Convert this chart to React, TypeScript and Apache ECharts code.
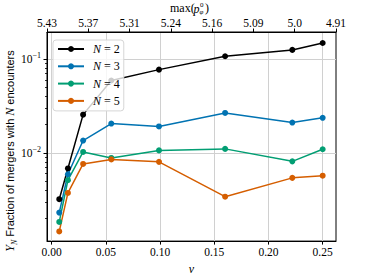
import React, { useEffect, useRef } from "react";
import * as echarts from "echarts";

const nu = [0.007, 0.015, 0.029, 0.055, 0.099, 0.16, 0.222, 0.25];
const yN2 = [0.0032, 0.0068, 0.0255, 0.059, 0.077, 0.107, 0.125, 0.148];
const yN3 = [0.0023, 0.0059, 0.0135, 0.0205, 0.0191, 0.0266, 0.021, 0.0236];
const yN4 = [0.00183, 0.0051, 0.0102, 0.0088, 0.0106, 0.011, 0.0081, 0.0109];
const yN5 = [0.00145, 0.00373, 0.0076, 0.0085, 0.008, 0.0034, 0.0054, 0.0057];
const seriesNames = ["N = 2", "N = 3", "N = 4", "N = 5"];
const seriesColors = ["#000000", "#0173B2", "#029E73", "#D55E00"];
const xTicks = [0, 0.05, 0.1, 0.15, 0.2, 0.25];
const topLabels = ["5.43", "5.37", "5.31", "5.24", "5.16", "5.09", "5.0", "4.91"];
const yMajor = [0.01, 0.1];
const yMinor = [0.002, 0.003, 0.004, 0.005, 0.006, 0.007, 0.008, 0.009, 0.02, 0.03, 0.04, 0.05, 0.06, 0.07, 0.08, 0.09];

const SERIF = "Liberation Serif";
const SANS = "Liberation Sans";

export default function App() {
  const ref = useRef<HTMLDivElement>(null);
  useEffect(() => {
    const chart = echarts.init(ref.current!, null, { renderer: "svg" });
    const allY = [yN2, yN3, yN4, yN5];
    const yMin = 0.001143;
    const yMax = 0.194;
    const option: any = {
      animation: false,
      grid: {
        left: 47,
        right: 38,
        top: 32,
        bottom: 31,
        show: true,
        borderColor: "#000",
        borderWidth: 1,
        backgroundColor: "transparent",
      },
      legend: {
        orient: "vertical",
        left: 53,
        top: 40,
        itemWidth: 26,
        itemHeight: 7.5,
        itemGap: 3.3,
        padding: [2, 4, 3, 4],
        backgroundColor: "rgba(255,255,255,0.8)",
        borderColor: "#d6d6d6",
        borderWidth: 1,
        borderRadius: 3,
        data: seriesNames,
        formatter: (name: string) => `{i|N}{n| = ${name.split("= ")[1]}}`,
        textStyle: {
          fontFamily: SERIF,
          fontSize: 12,
          color: "#000",
          lineHeight: 14,
          rich: {
            i: { fontFamily: SERIF, fontStyle: "italic", fontSize: 12, lineHeight: 14, padding: [0, 0, 0, 4] },
            n: { fontFamily: SERIF, fontSize: 12, lineHeight: 14 },
          },
        },
      },
      xAxis: [
        {
          type: "value",
          min: -0.0043,
          max: 0.2623,
          position: "bottom",
          name: "ν",
          nameLocation: "middle",
          nameGap: 21,
          nameTextStyle: { fontFamily: SERIF, fontStyle: "italic", fontSize: 12, color: "#000" },
          axisLine: { show: true, onZero: false, lineStyle: { color: "#000", width: 1 } },
          axisTick: { show: true, length: 3.5, customValues: xTicks, lineStyle: { color: "#000", width: 1 } },
          axisLabel: {
            customValues: xTicks,
            margin: 5,
            fontFamily: SERIF,
            fontSize: 11.5,
            color: "#000",
            formatter: (v: number) => v.toFixed(2),
          },
          splitLine: { show: true, lineStyle: { color: "#d0d0d0", width: 1 } },
        },
        {
          type: "value",
          min: 0,
          max: 7,
          interval: 1,
          position: "top",
          axisLine: { show: true, onZero: false, lineStyle: { color: "#000", width: 1 } },
          axisTick: { show: true, length: 3.5, lineStyle: { color: "#000", width: 1 } },
          axisLabel: {
            margin: 3,
            fontFamily: SERIF,
            fontSize: 11.5,
            color: "#000",
            showMinLabel: true,
            showMaxLabel: true,
            formatter: (v: number) => topLabels[Math.round(v)] ?? "",
          },
          splitLine: { show: false },
        },
      ],
      yAxis: [
        {
          type: "log",
          logBase: 10,
          min: yMin,
          max: yMax,
          position: "left",
          axisLine: { show: true, onZero: false, lineStyle: { color: "#000", width: 1 } },
          axisTick: { show: true, length: 3.5, customValues: yMajor, lineStyle: { color: "#000", width: 1 } },
          axisLabel: {
            customValues: yMajor,
            margin: 6,
            color: "#000",
            formatter: (v: number) => `{b|10}{s|−${Math.round(-Math.log10(v))}}`,
            rich: {
              b: { fontFamily: SERIF, fontSize: 11.5, lineHeight: 15, color: "#000" },
              s: { fontFamily: SERIF, fontSize: 8, lineHeight: 8, verticalAlign: "top", color: "#000" },
            },
          },
          splitLine: { show: true, lineStyle: { color: "#d0d0d0", width: 1 } },
        },
        {
          type: "log",
          logBase: 10,
          min: yMin,
          max: yMax,
          position: "left",
          axisLine: { show: false, onZero: false },
          axisTick: { show: true, length: 2, customValues: yMinor, lineStyle: { color: "#000", width: 0.8 } },
          axisLabel: { show: false },
          splitLine: { show: false },
        },
      ],
      series: seriesNames.map((name, i) => ({
        name,
        type: "line",
        xAxisIndex: 0,
        yAxisIndex: 0,
        data: nu.map((x, j) => [x, allY[i][j]]),
        symbol: "circle",
        symbolSize: 6,
        showSymbol: true,
        lineStyle: { color: seriesColors[i], width: 1.5 },
        itemStyle: { color: seriesColors[i] },
        z: 2,
      })),
      graphic: [
        {
          type: "text",
          x: 10,
          y: 151,
          rotation: Math.PI / 2,
          style: {
            text: "{i|Y}{sub|N}{n| Fraction of mergers with }{i|N}{n| encounters}",
            align: "center",
            verticalAlign: "middle",
            fill: "#000",
            rich: {
              i: { fontFamily: SERIF, fontStyle: "italic", fontSize: 12, lineHeight: 16, fill: "#000" },
              sub: { fontFamily: SERIF, fontStyle: "italic", fontSize: 8, lineHeight: 8, verticalAlign: "bottom", fill: "#000" },
              n: { fontFamily: SANS, fontSize: 11, lineHeight: 16, fill: "#000" },
            },
          },
        },
        {
          type: "group",
          x: 170,
          y: 8,
          children: [
            { type: "text", x: 0, y: 0, style: { text: "max(", fontFamily: SERIF, fontSize: 12, fill: "#000", verticalAlign: "middle" } },
            { type: "text", x: 23.5, y: 0.5, style: { text: "p", fontFamily: SERIF, fontStyle: "italic", fontSize: 12, fill: "#000", verticalAlign: "middle" } },
            { type: "text", x: 30, y: -3.3, style: { text: "0", fontFamily: SERIF, fontSize: 7, fill: "#000", verticalAlign: "middle" } },
            { type: "text", x: 29.5, y: 3.8, style: { text: "φ", fontFamily: SERIF, fontStyle: "italic", fontSize: 7, fill: "#000", verticalAlign: "middle" } },
            { type: "text", x: 35, y: 0, style: { text: ")", fontFamily: SERIF, fontSize: 12, fill: "#000", verticalAlign: "middle" } },
          ],
        },
      ],
    };
    chart.setOption(option);
    return () => chart.dispose();
  }, []);
  return (
    <div
      ref={ref}
      style={{ position: "absolute", left: 0, top: 0, width: 374, height: 280 }}
    />
  );
}
